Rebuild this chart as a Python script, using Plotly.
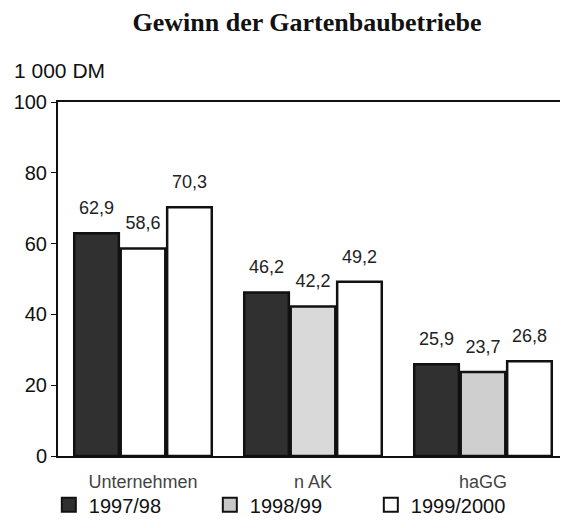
import plotly.graph_objects as go

categories = ['Unternehmen', 'n AK', 'haGG']
series_names = ['1997/98', '1998/99', '1999/2000']
values_9798 = [62.9, 46.2, 25.9]
values_9899 = [58.6, 42.2, 23.7]
values_9900 = [70.3, 49.2, 26.8]


def de_label(v):
    return f'{v:.1f}'.replace('.', ',')


fig = go.Figure()

series = [
    (series_names[0], values_9798, '#303030', '#303030'),
    (series_names[1], values_9899, ['#ffffff', '#d9d9d9', '#cfcfcf'], '#c8c8c8'),
    (series_names[2], values_9900, '#ffffff', '#ffffff'),
]

for k, (name, vals, color, legend_color) in enumerate(series):
    fig.add_trace(go.Bar(
        x=categories,
        y=vals,
        name=name,
        offsetgroup=str(k),
        showlegend=False,
        marker=dict(color=color, line=dict(color='#111111', width=2.5)),
    ))
    # value labels above the bars
    fig.add_trace(go.Scatter(
        x=categories,
        y=vals,
        offsetgroup=str(k),
        mode='markers+text',
        text=[de_label(v) for v in vals],
        textposition='top center',
        textfont=dict(family='Liberation Sans, Arial', size=18, color='#222222'),
        marker=dict(size=22, opacity=0),
        showlegend=False,
        hoverinfo='skip',
        cliponaxis=False,
    ))
    # legend entry (square swatch)
    fig.add_trace(go.Scatter(
        x=[None], y=[None], mode='markers', name=name,
        offsetgroup=str(k),
        marker=dict(symbol='square', size=14, color=legend_color,
                    line=dict(color='#111111', width=2)),
    ))

fig.update_layout(
    width=560,
    height=520,
    paper_bgcolor='white',
    plot_bgcolor='white',
    barmode='group',
    scattermode='group',
    bargap=0.18,
    bargroupgap=0.04,
    margin=dict(l=50, r=0, t=94, b=72, autoexpand=False),
    title=dict(
        text='<b>Gewinn der Gartenbaubetriebe</b>',
        x=0.534, xanchor='center', y=0.99, yanchor='top',
        font=dict(family='Liberation Serif, Times New Roman', size=26, color='#111111'),
    ),
    font=dict(family='Liberation Sans, Arial', size=20, color='#111111'),
    showlegend=True,
    legend=dict(
        orientation='h',
        x=-0.018, xanchor='left',
        y=-0.138, yanchor='middle',
        entrywidth=116,
        font=dict(size=20),
        bgcolor='rgba(0,0,0,0)',
        traceorder='normal',
        itemwidth=30,
    ),
    annotations=[dict(
        text='1 000 DM', xref='paper', yref='paper',
        x=-0.09, y=1.09, xanchor='left', yanchor='middle',
        showarrow=False, font=dict(size=21),
    )],
)

fig.update_xaxes(
    showline=True, linecolor='#111111', linewidth=2, mirror=True,
    ticks='', ticklabelstandoff=8, tickfont=dict(size=18, color='#444444'),
)
fig.update_yaxes(
    range=[0, 100], dtick=20,
    showline=True, linecolor='#111111', linewidth=2,
    ticks='outside', ticklen=5, tickcolor='#111111',
    showgrid=False, zeroline=False,
    tickfont=dict(size=20),
)

fig.write_html('out.html')
